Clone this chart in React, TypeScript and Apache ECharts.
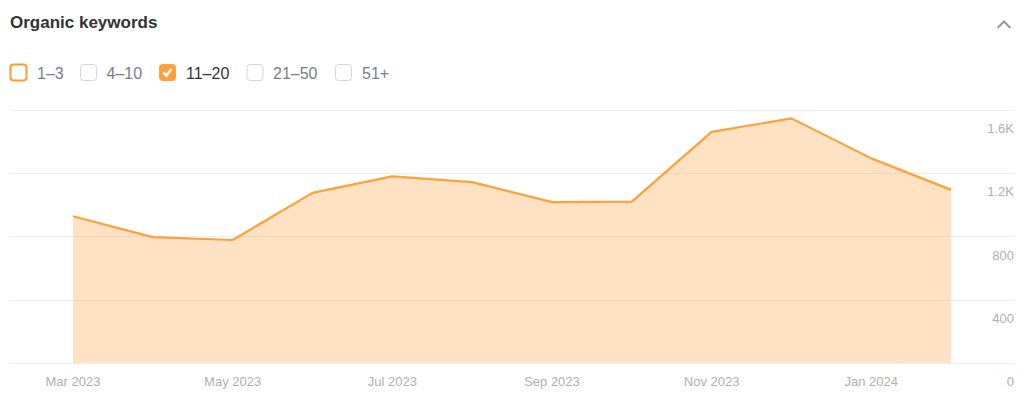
import React, { useEffect, useRef } from "react";
import * as echarts from "echarts";

const title = "Organic keywords";
const months = [
  "Mar 2023", "Apr 2023", "May 2023", "Jun 2023", "Jul 2023", "Aug 2023",
  "Sep 2023", "Oct 2023", "Nov 2023", "Dec 2023", "Jan 2024", "Feb 2024",
];
const keywords11to20 = [928, 796, 778, 1076, 1180, 1144, 1017, 1021, 1462, 1547, 1294, 1095];
const labeledMonthIdx = [0, 2, 4, 6, 8, 10];
const yMax = 1600;
const yStep = 400;
const legendItems = ["1–3", "4–10", "11–20", "21–50", "51+"];
const legendChecked = [false, false, true, false, false];
const legendHighlighted = [true, false, false, false, false];

const FONT = "'Liberation Sans', Arial, Helvetica, sans-serif";
const ORANGE = "#ffa03a";

export default function App() {
  const ref = useRef<HTMLDivElement>(null);

  useEffect(() => {
    if (!ref.current) return;
    const chart = echarts.init(ref.current, undefined, { renderer: "svg" });

    const boxX = [10, 80, 159, 246.5, 335];
    const textX = [37, 106.5, 186, 273, 362];
    const graphics: any[] = [
      {
        type: "text",
        left: 10,
        top: 14,
        style: { text: title, fill: "#333333", font: `bold 17px ${FONT}` },
      },
      {
        type: "polyline",
        shape: { points: [[997.5, 28], [1004, 21.5], [1010.5, 28]] },
        style: { stroke: "#9a9a9a", lineWidth: 2, fill: "none" },
      },
    ];
    legendItems.forEach((label, i) => {
      const checked = legendChecked[i];
      const hi = legendHighlighted[i];
      graphics.push({
        type: "rect",
        shape: { x: boxX[i] + 0.5, y: 64.5, width: 16, height: 16, r: 3 },
        style: checked
          ? { fill: ORANGE, stroke: ORANGE, lineWidth: 1 }
          : hi
          ? { fill: "#ffffff", stroke: "#ff9a2a", lineWidth: 2 }
          : { fill: "#ffffff", stroke: "#d6d6d6", lineWidth: 1 },
      });
      if (checked) {
        graphics.push({
          type: "polyline",
          shape: { points: [[boxX[i] + 4.5, 72.5], [boxX[i] + 7.5, 75.5], [boxX[i] + 12.5, 69]] },
          style: { stroke: "#ffffff", lineWidth: 2.5, fill: "none" },
        });
      }
      graphics.push({
        type: "text",
        x: textX[i],
        y: 73,
        style: {
          text: label,
          fill: checked ? "#333333" : "#7a7e87",
          font: `16px ${FONT}`,
          verticalAlign: "middle",
        },
      });
    });

    chart.setOption({
      animation: false,
      textStyle: { fontFamily: FONT },
      grid: { left: 10, right: 9, top: 110, bottom: 35, containLabel: false },
      xAxis: {
        type: "value",
        min: -0.789,
        max: 11.8,
        axisLine: { show: false },
        axisTick: { show: false },
        splitLine: { show: false },
        axisLabel: {
          customValues: labeledMonthIdx,
          formatter: (v: number) => months[Math.round(v)] ?? "",
          color: "#b0b0b0",
          fontSize: 13,
          fontFamily: FONT,
          margin: 12,
        },
      },
      yAxis: {
        type: "value",
        position: "right",
        min: 0,
        max: yMax,
        interval: yStep,
        axisLine: { show: false },
        axisTick: { show: false },
        splitLine: { lineStyle: { color: "#eeeeee", width: 1 } },
        axisLabel: {
          inside: true,
          margin: 1,
          color: "#b0b0b0",
          fontSize: 13,
          fontFamily: FONT,
          verticalAlign: "top",
          padding: [12, 0, 0, 0],
          formatter: (v: number) => (v >= 1000 ? `${v / 1000}K` : `${v}`),
        },
      },
      series: [
        {
          type: "line",
          name: "11–20",
          data: keywords11to20.map((v, i) => [i, v]),
          symbol: "none",
          silent: true,
          lineStyle: { color: ORANGE, width: 2.2 },
          itemStyle: { color: ORANGE },
          areaStyle: { color: ORANGE, opacity: 0.3, origin: "start" },
        },
      ],
      graphic: graphics,
    });

    return () => chart.dispose();
  }, []);

  return (
    <div
      ref={ref}
      style={{ position: "absolute", left: 0, top: 0, width: 1024, height: 398, background: "#ffffff" }}
    />
  );
}
